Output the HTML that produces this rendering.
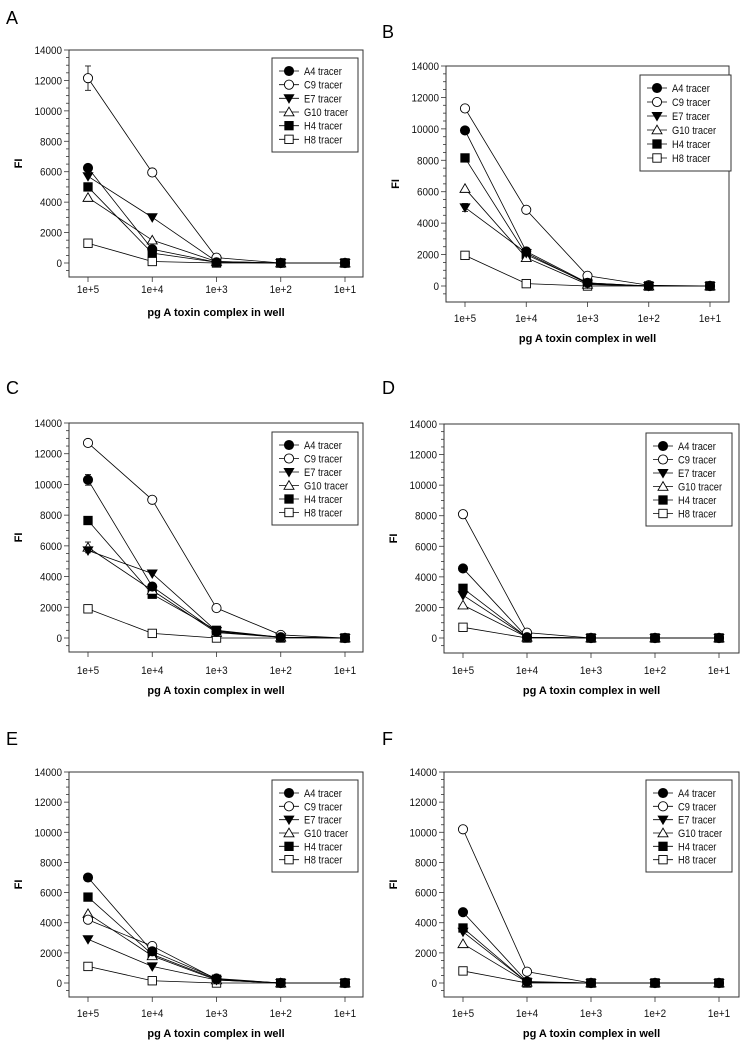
<!DOCTYPE html>
<html><head><meta charset="utf-8">
<style>
html,body{margin:0;padding:0;background:#fff;}
svg{display:block;font-family:"Liberation Sans",Arial,sans-serif;}
</style></head>
<body>
<svg id="fig" width="752" height="1050" viewBox="0 0 752 1050" xmlns="http://www.w3.org/2000/svg"></svg>
<script>
const categories = ["1e+5","1e+4","1e+3","1e+2","1e+1"];
const seriesNames = ["A4 tracer","C9 tracer","E7 tracer","G10 tracer","H4 tracer","H8 tracer"];
const yTicks = [0,2000,4000,6000,8000,10000,12000,14000];
const panelLetters = ["A","B","C","D","E","F"];
// values per panel, per series (A4, C9, E7, G10, H4, H8)
const panelA = [[6250,900,50,0,0],[12150,5950,350,0,0],[5700,3000,100,0,0],[4300,1500,100,0,0],[5000,650,50,0,0],[1300,100,0,0,0]];
const panelB = [[9900,2200,200,0,0],[11300,4850,650,50,0],[5000,2100,150,0,0],[6200,1800,100,0,0],[8150,2000,200,0,0],[1950,150,0,0,0]];
const panelC = [[10300,3350,400,50,0],[12700,9000,1950,200,0],[5700,4200,450,50,0],[5900,3100,350,50,0],[7650,2850,500,50,0],[1900,300,0,0,0]];
const panelD = [[4550,50,0,0,0],[8100,350,0,0,0],[2800,50,0,0,0],[2150,50,0,0,0],[3250,50,0,0,0],[700,0,0,0,0]];
const panelE = [[7000,2100,300,0,0],[4200,2450,250,0,0],[2900,1100,200,0,0],[4600,1800,200,0,0],[5700,1900,250,0,0],[1100,150,0,0,0]];
const panelF = [[4700,100,0,0,0],[10200,750,0,0,0],[3400,50,0,0,0],[2600,50,0,0,0],[3650,50,0,0,0],[800,0,0,0,0]];
// error bars (only noticeable ones), [series, category, err]
const errA = [[1,0,800]];
const errB = [[2,0,250]];
const errC = [[0,0,350],[3,0,350]];
const errD = [[1,0,250]];
const errE = [];
const errF = [];

const panelValues=[panelA,panelB,panelC,panelD,panelE,panelF];
const panelErrs=[errA,errB,errC,errD,errE,errF];
const layouts=[
 {letter:[6,24],left:69,right:363,top:50,zero:263,bottom:277,x0:88,x4:345,tickY:293,labY:316,leg:[272,58,358,152]},
 {letter:[382,38],left:446,right:729,top:66,zero:286,bottom:302,x0:465,x4:710,tickY:322,labY:342,leg:[640,75,731,171]},
 {letter:[6,394],left:69,right:363,top:423,zero:638,bottom:652,x0:88,x4:345,tickY:674,labY:694,leg:[272,432,358,525]},
 {letter:[382,394],left:444,right:739,top:424,zero:638,bottom:653,x0:463,x4:719,tickY:674,labY:694,leg:[646,433,732,526]},
 {letter:[6,745],left:69,right:363,top:772,zero:983,bottom:997,x0:88,x4:345,tickY:1017,labY:1037,leg:[272,780,358,872]},
 {letter:[382,745],left:444,right:739,top:772,zero:983,bottom:997,x0:463,x4:719,tickY:1017,labY:1037,leg:[646,780,732,872]}
];
const markers=["circleF","circleO","triF","triO","sqF","sqO"];
const NS="http://www.w3.org/2000/svg";
const svg=document.getElementById('fig');
function mk(tag,attrs,parent){const e=document.createElementNS(NS,tag);for(const k in attrs)e.setAttribute(k,attrs[k]);(parent||svg).appendChild(e);return e;}
function condensed(t,x,y,s){t.setAttribute('transform',`translate(${x} ${y}) scale(${s} 1) translate(${-x} ${-y})`);}
function marker(type,x,y,g){
  const fill=type.endsWith('F')?'#000':'#fff';
  let e;
  if(type.startsWith('circle')) e=mk('circle',{cx:x,cy:y,r:4.6,fill:fill,stroke:'#000','stroke-width':0.9},g);
  else if(type.startsWith('sq')) e=mk('rect',{x:x-4.2,y:y-4.2,width:8.4,height:8.4,fill:fill,stroke:'#000','stroke-width':0.9},g);
  else if(type==='triF') e=mk('polygon',{points:`${x-4.8},${y-3.6} ${x+4.8},${y-3.6} ${x},${y+4.6}`,fill:fill,stroke:'#000','stroke-width':0.9},g);
  else e=mk('polygon',{points:`${x-5},${y+3.8} ${x+5},${y+3.8} ${x},${y-4.8}`,fill:fill,stroke:'#000','stroke-width':0.9},g);
  return e;
}
layouts.forEach((L,p)=>{
  const g=mk('g',{});
  
  
  const yS=v=>L.zero-(v/14000)*(L.zero-L.top);
  const xS=i=>L.x0+i*(L.x4-L.x0)/(categories.length-1);
  const lt=mk('text',{x:L.letter[0],y:L.letter[1],'font-size':18,fill:'#000'},g);lt.textContent=panelLetters[p];
  
  
  const fr=mk('rect',{x:L.left,y:L.top,width:L.right-L.left,height:L.bottom-L.top,fill:'none',stroke:'#333','stroke-width':1},g);
  
  
  for(let v=-500;v<=14000;v+=500){
    const y=yS(v); if(y>L.bottom) continue;
    const major=v%2000===0;
    mk('line',{x1:L.left,x2:L.left-(major?5:3),y1:y,y2:y,stroke:'#333','stroke-width':0.8},g);
  }
  yTicks.forEach(v=>{const t=mk('text',{x:L.left-7,y:yS(v)+4,'font-size':11,'text-anchor':'end',fill:'#111'},g);t.textContent=v;
    condensed(t,L.left-7,yS(v)+4,0.9);
    
    });
  categories.forEach((c,i)=>{
    mk('line',{x1:xS(i),x2:xS(i),y1:L.bottom,y2:L.bottom+5,stroke:'#333','stroke-width':0.8},g);
    const t=mk('text',{x:xS(i),y:L.tickY,'font-size':11,'text-anchor':'middle',fill:'#111'},g);t.textContent=c;
    condensed(t,xS(i),L.tickY,0.9);
    
    
  });
  const xl=mk('text',{x:(L.left+L.right)/2,y:L.labY,'font-size':11,'font-weight':'bold','text-anchor':'middle'},g);xl.textContent='pg A toxin complex in well';
  
  
  const ym=(L.top+L.bottom)/2;
  const yl=mk('text',{x:L.left-47,y:ym,'font-size':11,'font-weight':'bold','text-anchor':'middle',transform:`rotate(-90 ${L.left-47} ${ym})`},g);yl.textContent='FI';
  
  
  const vals=panelValues[p];
  panelErrs[p].forEach(([s,c,e])=>{
    const x=xS(c),v=vals[s][c];
    mk('line',{x1:x,x2:x,y1:yS(v+e),y2:yS(v-e),stroke:'#000','stroke-width':0.8},g);
    mk('line',{x1:x-3,x2:x+3,y1:yS(v+e),y2:yS(v+e),stroke:'#000','stroke-width':0.8},g);
    mk('line',{x1:x-3,x2:x+3,y1:yS(v-e),y2:yS(v-e),stroke:'#000','stroke-width':0.8},g);
  });
  vals.forEach((sv,s)=>{
    const pts=sv.map((v,i)=>xS(i)+','+yS(v)).join(' ');
    const pl=mk('polyline',{points:pts,fill:'none',stroke:'#000','stroke-width':0.8},g);
    
    
  });
  for(let s=vals.length-1;s>=0;s--){
    vals[s].forEach((v,i)=>{const m=marker(markers[s],xS(i),yS(v),g);
      
      });
  }
  const [lx,ly,rx,by]=L.leg;
  const lg=mk('g',{},g);
  
  
  mk('rect',{x:lx,y:ly,width:rx-lx,height:by-ly,fill:'#fff',stroke:'#333','stroke-width':1},lg);
  const step=(by-ly-12)/6;
  seriesNames.forEach((n,s)=>{
    const y=ly+13+s*step;
    mk('line',{x1:lx+7,x2:lx+27,y1:y,y2:y,stroke:'#000','stroke-width':0.8},lg);
    marker(markers[s],lx+17,y,lg);
    const t=mk('text',{x:lx+32,y:y+4,'font-size':11,fill:'#111'},lg);t.textContent=n;
    condensed(t,lx+32,y+4,0.85);
    
    
  });
});
</script>
</body></html>
